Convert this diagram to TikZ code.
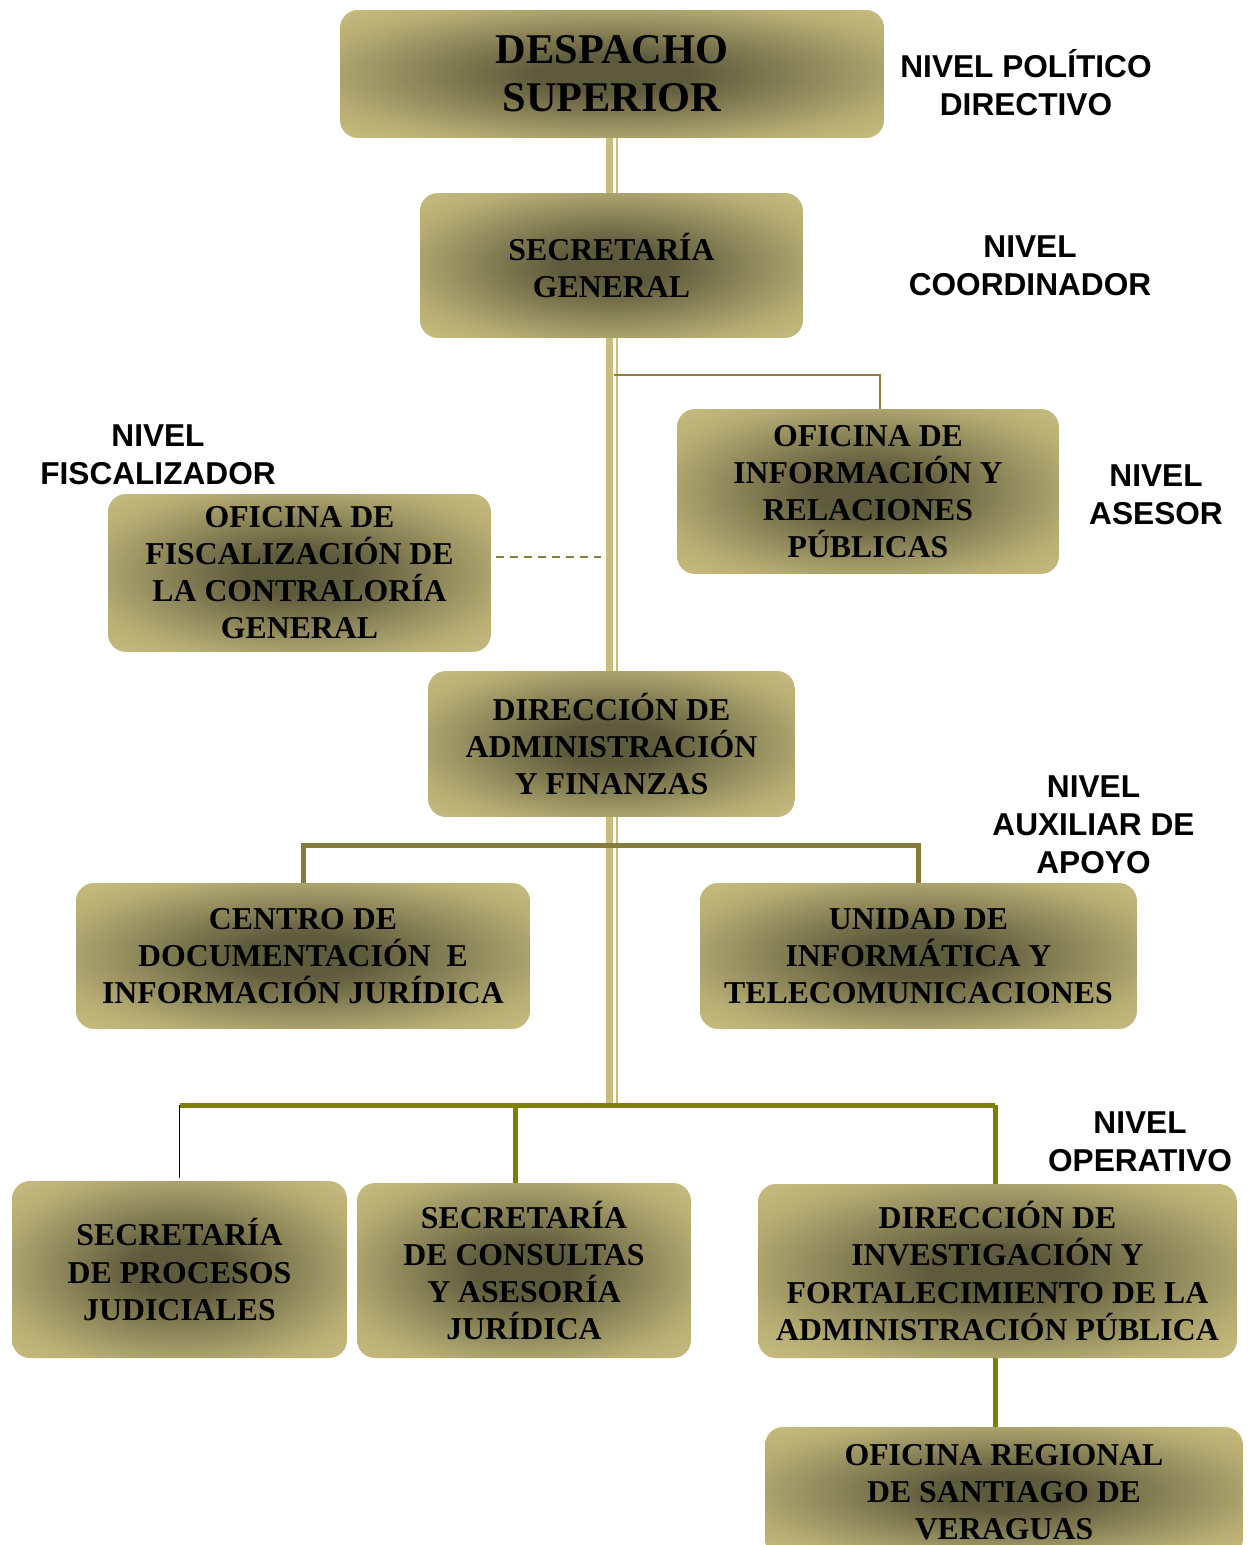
\documentclass[tikz,border=0pt]{standalone}
\usepackage{fontspec}
\setmainfont{Liberation Serif}
\newfontfamily\nivelfont{Liberation Sans}
\usepackage{tikz}
\usetikzlibrary{positioning, calc, backgrounds}
\definecolor{boxcolor}{HTML}{C8BD7E}
\definecolor{glowcolor}{HTML}{5E5A3C}
\colorlet{glowmid}{glowcolor!55!boxcolor}
\colorlet{glowout}{glowcolor!15!boxcolor}
\definecolor{asesorcolor}{HTML}{8C7F3C}
\definecolor{auxcolor}{HTML}{877B38}
\definecolor{opcolor}{HTML}{808000}
\pgfdeclareradialshading{boxglow}{\pgfpoint{0bp}{0bp}}{color(0bp)=(glowcolor); color(7bp)=(glowcolor); color(18bp)=(glowmid); color(28bp)=(glowout); color(36bp)=(boxcolor); color(50bp)=(boxcolor)}

\begin{document}
\begin{tikzpicture}[
    x=0.02cm, y=-0.02cm,
    unit/.style={rounded corners=0.36cm, shading=boxglow, align=center, inner sep=0pt,
                 font=\fontsize{18.1}{21.1}\selectfont\bfseries},
    nivel/.style={align=center, font=\nivelfont\fontsize{18}{21.6}\selectfont\bfseries},
    trunk/.style={draw=boxcolor, line width=0.14cm},
    trunkthin/.style={draw=boxcolor, line width=0.05cm},
    asesorlink/.style={draw=asesorcolor, line width=0.04cm},
    dashlink/.style={draw=asesorcolor, line width=0.04cm, dash pattern=on 0.15cm off 0.13cm},
    auxlink/.style={draw=auxcolor, line width=0.1cm},
    oplink/.style={draw=opcolor, line width=0.1cm}
]
    \useasboundingbox (0,0) rectangle (1251,1545);

    % --- units ---
    \node[unit, minimum width=10.88cm, minimum height=2.56cm,
          font=\fontsize{24.1}{27.3}\selectfont\bfseries] (desp) at (612,74) {DESPACHO\\SUPERIOR};
    \node[unit, minimum width=7.66cm, minimum height=2.9cm] (secgen) at (611.5,265.5) {SECRETARÍA\\GENERAL};
    \node[unit, minimum width=7.64cm, minimum height=3.3cm] (ofinfo) at (868,491.5)
        {OFICINA DE\\INFORMACIÓN Y\\RELACIONES\\PÚBLICAS};
    \node[unit, minimum width=7.66cm, minimum height=3.16cm] (ofisc) at (299.5,573)
        {OFICINA DE\\FISCALIZACIÓN DE\\LA CONTRALORÍA\\GENERAL};
    \node[unit, minimum width=7.34cm, minimum height=2.92cm] (dirad) at (611.5,744)
        {DIRECCIÓN DE\\ADMINISTRACIÓN\\Y FINANZAS};
    \node[unit, minimum width=9.08cm, minimum height=2.92cm] (centro) at (303,956)
        {CENTRO DE\\DOCUMENTACIÓN\ \ E\\INFORMACIÓN JURÍDICA};
    \node[unit, minimum width=8.74cm, minimum height=2.92cm] (unidad) at (918.5,956)
        {UNIDAD DE\\INFORMÁTICA Y\\TELECOMUNICACIONES};
    \node[unit, minimum width=6.7cm, minimum height=3.54cm] (secproc) at (179.5,1269.5)
        {SECRETARÍA\\DE PROCESOS\\JUDICIALES};
    \node[unit, minimum width=6.68cm, minimum height=3.5cm] (seccons) at (524,1270.5)
        {SECRETARÍA\\DE CONSULTAS\\Y ASESORÍA\\JURÍDICA};
    \node[unit, minimum width=9.58cm, minimum height=3.48cm] (dirinv) at (997.5,1271)
        {DIRECCIÓN DE\\INVESTIGACIÓN Y\\FORTALECIMIENTO DE LA\\ADMINISTRACIÓN PÚBLICA};
    \node[unit, minimum width=9.56cm, minimum height=2.6cm] (ofreg) at (1004,1492)
        {OFICINA REGIONAL\\DE SANTIAGO DE\\VERAGUAS};

    % --- levels ---
    \node[nivel] (polit) at (1026,83) {NIVEL POLÍTICO\\DIRECTIVO};
    \node[nivel] (coord) at (1030,266) {NIVEL\\COORDINADOR};
    \node[nivel] (fisc) at (158,455) {NIVEL\\FISCALIZADOR};
    \node[nivel] (asesor) at (1156,495) {NIVEL\\ASESOR};
    \node[nivel] (aux) at (1093.5,825) {NIVEL\\AUXILIAR DE\\APOYO};
    \node[nivel] (oper) at (1140,1142) {NIVEL\\OPERATIVO};

    % --- connectors ---
    \coordinate (base) at (612,1105);
    \coordinate (asesorjoin) at (614,375);
    \coordinate (dashend) at (601,557);
    \coordinate (auxbar) at (612,845);
    \begin{scope}[on background layer]
        \draw[trunk] ([xshift=-0.05cm]desp.south) -- ([xshift=-0.05cm]base);
        \draw[trunkthin] ([xshift=0.1cm]desp.south) -- ([xshift=0.1cm]base);
        \draw[asesorlink] (asesorjoin) -| ([xshift=0.24cm]ofinfo.north);
        \draw[dashlink] ([xshift=0.1cm]ofisc.east |- dashend) -- (dashend);
        \draw[auxlink] (centro.north) |- (auxbar) -| (unidad.north);
        \draw[oplink] (base -| secproc.north) -- ([xshift=-0.05cm]base -| dirinv.north);
        \draw[black, line width=0.03cm] (base -| secproc.north) -- ([yshift=0.06cm]secproc.north);
        \draw[oplink] ([xshift=-0.18cm]seccons.north |- base) -- ([xshift=-0.18cm]seccons.north);
        \draw[oplink] ([xshift=-0.05cm]base -| dirinv.north) -- ([xshift=-0.05cm]dirinv.north);
        \draw[oplink] ([xshift=-0.05cm]dirinv.south) -- ([xshift=-0.05cm]dirinv.south |- ofreg.north);
    \end{scope}
\end{tikzpicture}
\end{document}
